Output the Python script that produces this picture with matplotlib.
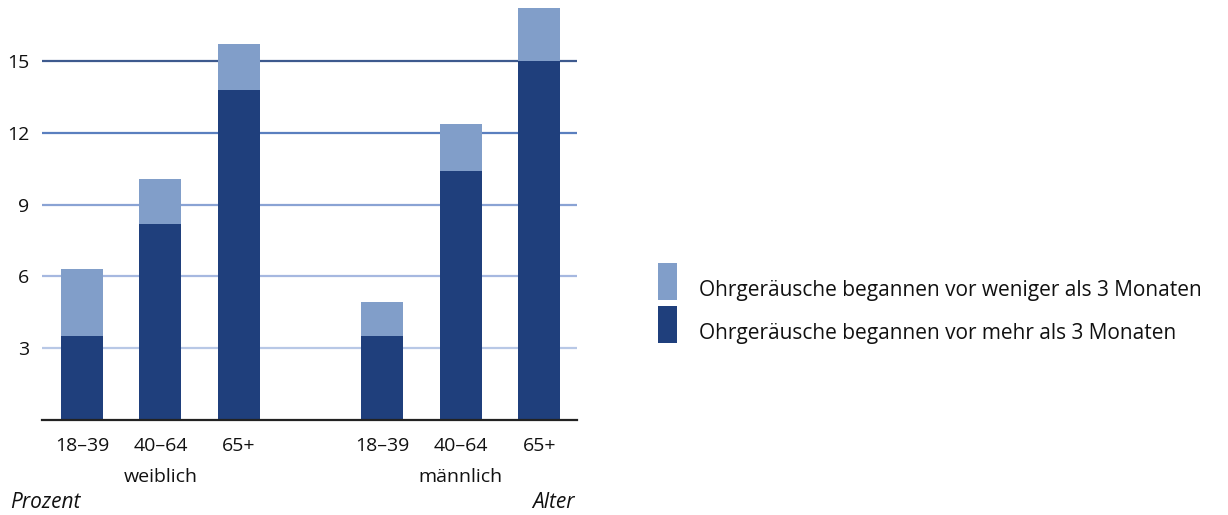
import numpy as np
import matplotlib
matplotlib.use("Agg")
import matplotlib.pyplot as plt
from matplotlib.patches import Rectangle
from matplotlib.transforms import blended_transform_factory

plt.rcParams['font.family'] = ['Open Sans', 'DejaVu Sans']

# data (Prozent)
altersgruppen = ['18–39', '40–64', '65+', '18–39', '40–64', '65+']
gruppen = ['weiblich', 'männlich']
mehr_als_3 = [3.5, 8.2, 13.8, 3.5, 10.4, 15.0]
weniger_als_3 = [2.8, 1.85, 1.9, 1.45, 1.95, 2.2]
yticks = [3, 6, 9, 12, 15]
legend_labels = ['Ohrgeräusche begannen vor weniger als 3 Monaten',
                 'Ohrgeräusche begannen vor mehr als 3 Monaten']

dark = '#1f3f7c'
light = '#819ec9'
grid_colors = ['#b8c8e6', '#a6b8e0', '#8aa3d4', '#5a7fbf', '#3e5a8e']

W, H = 1228, 515
fig = plt.figure(figsize=(W / 100, H / 100), dpi=100)
ax = fig.add_axes([42 / W, 1 - 420 / H, (577 - 42) / W, 414 / H])

# bar positions: two groups of three
pos = np.array([0, 1, 2, 3.83, 4.83, 5.83])
w = 0.535

for y, c in zip(yticks, grid_colors):
    ax.axhline(y, color=c, lw=1.6, zorder=1)

ax.bar(pos, mehr_als_3, width=w, color=dark, zorder=2)
ax.bar(pos, weniger_als_3, bottom=mehr_als_3, width=w, color=light, zorder=2)

ax.set_xlim(-0.51, 6.31)
ax.set_ylim(0, 17.3)
ax.set_yticks(yticks)
ax.set_yticklabels([str(t) for t in yticks], fontsize=14)
ax.set_xticks(pos)
ax.set_xticklabels(altersgruppen, fontsize=14)
ax.tick_params(axis='both', length=0, colors='#111111')
ax.tick_params(axis='y', pad=9)
ax.tick_params(axis='x', pad=12)
for s in ['top', 'right', 'left']:
    ax.spines[s].set_visible(False)
ax.spines['bottom'].set_color('#222222')
ax.spines['bottom'].set_linewidth(1.6)

# group labels under the middle bar of each group
tr = blended_transform_factory(ax.transData, fig.transFigure)
for i, g in enumerate(gruppen):
    ax.text(pos[i * 3 + 1], 1 - 477 / H, g, transform=tr, ha='center',
            va='center', fontsize=14, color='#111111')

fig.text(10 / W, 1 - 503 / H, 'Prozent', style='italic', fontsize=15,
         ha='left', va='center', color='#111111')
fig.text(575 / W, 1 - 503 / H, 'Alter', style='italic', fontsize=15,
         ha='right', va='center', color='#111111')

# legend drawn by hand: tall swatches, text sitting on their bottom edge
for k, (lab, col) in enumerate(zip(legend_labels, [light, dark])):
    top = 263 + k * 43
    fig.add_artist(Rectangle((658 / W, 1 - (top + 37) / H), 19 / W, 37 / H,
                             transform=fig.transFigure, color=col, lw=0))
    fig.text(699 / W, 1 - (top + 33) / H, lab, fontsize=15, ha='left',
             va='baseline', color='#111111')

fig.savefig('out.png', dpi=100)
